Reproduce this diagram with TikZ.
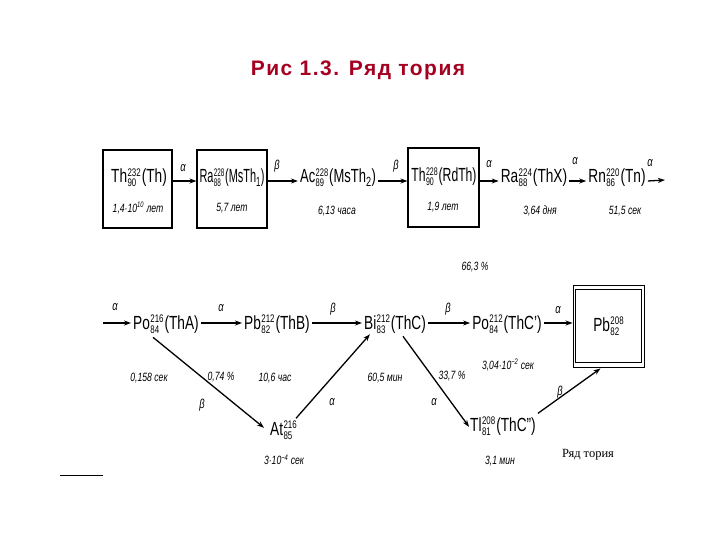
\documentclass[tikz,border=0pt]{standalone}
\usepackage{fontspec}
\setmainfont{Liberation Sans}[FakeStretch=0.72]
\newfontfamily\titlefont{Liberation Sans}[LetterSpace=7]
\newfontfamily\serifru{Liberation Serif}
\usetikzlibrary{arrows.meta}
\definecolor{titlered}{RGB}{165,0,33}
\newcommand\nucl[4]{#1\kern.4pt\raisebox{-4pt}{\fontsize{11}{11}\selectfont\shortstack[l]{#2\\#3}}\kern1pt#4}
\tikzset{
  nuc/.style={font=\fontsize{19}{20}\selectfont, inner sep=0pt, anchor=base},
  squeeze/.style={xscale=#1, transform shape},
  half/.style={font=\fontsize{12}{13}\selectfont\itshape, inner sep=0pt},
  dlab/.style={font=\fontsize{13}{14}\selectfont\itshape, inner sep=0pt},
  decay/.style={-{Stealth[length=7pt,width=5pt]}, line width=1.3pt},
  framebox/.style={draw, line width=1.1pt, inner sep=0pt},
}
\begin{document}
\begin{tikzpicture}[x=1pt,y=-1pt]
\useasboundingbox (0,0) rectangle (720,540);
\fill[white] (0,0) rectangle (720,540);

\node[font=\titlefont\bfseries\fontsize{21}{24}\selectfont, text=titlered] (title) at (358,70) {Рис 1.3. Ряд тория};

% ---- top row ----
\node[framebox, minimum width=69pt, minimum height=78pt] (box1) at (137.5,189) {};
\node[framebox, minimum width=70pt, minimum height=78pt] (box2) at (232,189) {};
\node[framebox, minimum width=71pt, minimum height=79pt] (box3) at (443.5,187.5) {};

\node[nuc] (th232) at (139,183) {\nucl{Th}{232}{90}{(Th)}};
\node[nuc, squeeze=0.8] (ra228) at (232,183) {\nucl{Ra}{228}{88}{(MsTh\textsubscript{1})}};
\node[nuc, squeeze=0.95] (ac228) at (338,183) {\nucl{Ac}{228}{89}{(MsTh\textsubscript{2})}};
\node[nuc, squeeze=0.89] (th228) at (444,182) {\nucl{Th}{228}{90}{(RdTh)}};
\node[nuc] (ra224) at (534,183) {\nucl{Ra}{224}{88}{(ThX)}};
\node[nuc] (rn220) at (617,183) {\nucl{Rn}{220}{86}{(Tn)}};
\coordinate (topend) at (665,180);

\node[half] (t1) at (138,208) {1,4·10\textsuperscript{10} лет};
\node[half] (t2) at (232,208) {5,7 лет};
\node[half] (t3) at (337,211) {6,13 часа};
\node[half] (t4) at (443,207) {1,9 лет};
\node[half] (t5) at (540,211) {3,64 дня};
\node[half] (t6) at (625,211) {51,5 сек};

\draw[decay] ([yshift=2pt]th232.base -| box1.east) -- ([yshift=2pt]th232.base -| box2.west);
\draw[decay] ([yshift=2pt]ra228.base -| box2.east) -- ([xshift=-2pt,yshift=2pt]ac228.base west);
\draw[decay] ([xshift=2pt,yshift=2pt]ac228.base east) -- ([yshift=2pt]ac228.base -| box3.west);
\draw[decay] ([yshift=2pt]ra224.base -| box3.east) -- ([xshift=-2pt,yshift=2pt]ra224.base west);
\draw[decay] ([xshift=2pt,yshift=2pt]ra224.base east) -- ([xshift=-2pt,yshift=2pt]rn220.base west);
\draw[decay] ([xshift=2pt,yshift=2pt]rn220.base east) -- (topend);

\node[dlab] (a1) at (183,168) {α};
\node[dlab] (b1) at (277,166) {β};
\node[dlab] (b2) at (396,166) {β};
\node[dlab] (a2) at (489,164) {α};
\node[dlab] (a3) at (575,161) {α};
\node[dlab] (a4) at (650,163) {α};

% ---- second row ----
\coordinate (start2) at (103,323);
\node[nuc] (po216) at (166,329) {\nucl{Po}{216}{84}{(ThA)}};
\node[nuc] (pb212) at (277,329) {\nucl{Pb}{212}{82}{(ThB)}};
\node[nuc] (bi212) at (395,329) {\nucl{Bi}{212}{83}{(ThC)}};
\node[nuc] (po212) at (507,329) {\nucl{Po}{212}{84}{(ThC')}};
\node[draw, line width=0.9pt, minimum width=71pt, minimum height=82pt, inner sep=0pt] (pbbox) at (608.5,326) {};
\draw[line width=1.6pt] ([xshift=3pt,yshift=-5pt]pbbox.north west) rectangle ([xshift=-3pt,yshift=5pt]pbbox.south east);
\node[nuc] (pb208) at (609,331) {\nucl{Pb}{208}{82}{}};

\node[nuc] (at216) at (284,435) {\nucl{At}{216}{85}{}};
\node[nuc] (tl208) at (503,431) {\nucl{Tl}{208}{81}{(ThC'')}};

\draw[decay] (start2) -- ([xshift=-2pt]start2 -| po216.west);
\draw[decay] ([xshift=2pt,yshift=6pt]po216.base east) -- ([xshift=-2pt,yshift=6pt]pb212.base west);
\draw[decay] ([xshift=2pt,yshift=6pt]pb212.base east) -- ([xshift=-2pt,yshift=6pt]bi212.base west);
\draw[decay] ([xshift=2pt,yshift=6pt]bi212.base east) -- ([xshift=-2pt,yshift=6pt]po212.base west);
\draw[decay] ([xshift=2pt,yshift=6pt]po212.base east) -- ([yshift=6pt]po212.base -| pbbox.west);

\draw[decay] ([xshift=-13pt,yshift=-4pt]po216.south) -- ([xshift=-6pt,yshift=2pt]at216.west);
\draw[decay] ([xshift=-2pt,yshift=2pt]at216.north east) -- ([xshift=6pt,yshift=-1pt]bi212.south west);
\draw[decay] ([xshift=8pt,yshift=-3pt]bi212.south) -- ([xshift=-1pt,yshift=-1pt]tl208.west);
\draw[decay] ([xshift=2pt,yshift=3pt]tl208.north east) -- ([xshift=-8pt,yshift=-1pt]pbbox.south);

\node[dlab] (a5) at (115,307) {α};
\node[dlab] (a6) at (221,308) {α};
\node[dlab] (b3) at (333,309) {β};
\node[dlab] (b4) at (448,309) {β};
\node[dlab] (a7) at (558,310) {α};

\node[half] (p1) at (475,267) {66,3 \%};
\node[half] (h1) at (149,378) {0,158 сек};
\node[half] (p2) at (221,377) {0,74 \%};
\node[dlab] (b5) at (202,405) {β};
\node[half] (h2) at (275,378) {10,6 час};
\node[half] (h3) at (284,460) {3·10\textsuperscript{−4} сек};
\node[dlab] (a8) at (332,402) {α};
\node[half] (h4) at (385,378) {60,5 мин};
\node[half] (p3) at (452,376) {33,7 \%};
\node[dlab] (a9) at (434,402) {α};
\node[half] (h5) at (508,365) {3,04·10\textsuperscript{−2} сек};
\node[dlab] (b6) at (560,392) {β};
\node[half] (h6) at (500,461) {3,1 мин};
\node[font=\serifru\fontsize{12.5}{14}\selectfont, inner sep=0pt] (cap) at (588,455) {Ряд тория};

\draw[line width=1pt] (60,475) -- (103,475);
\end{tikzpicture}
\end{document}
